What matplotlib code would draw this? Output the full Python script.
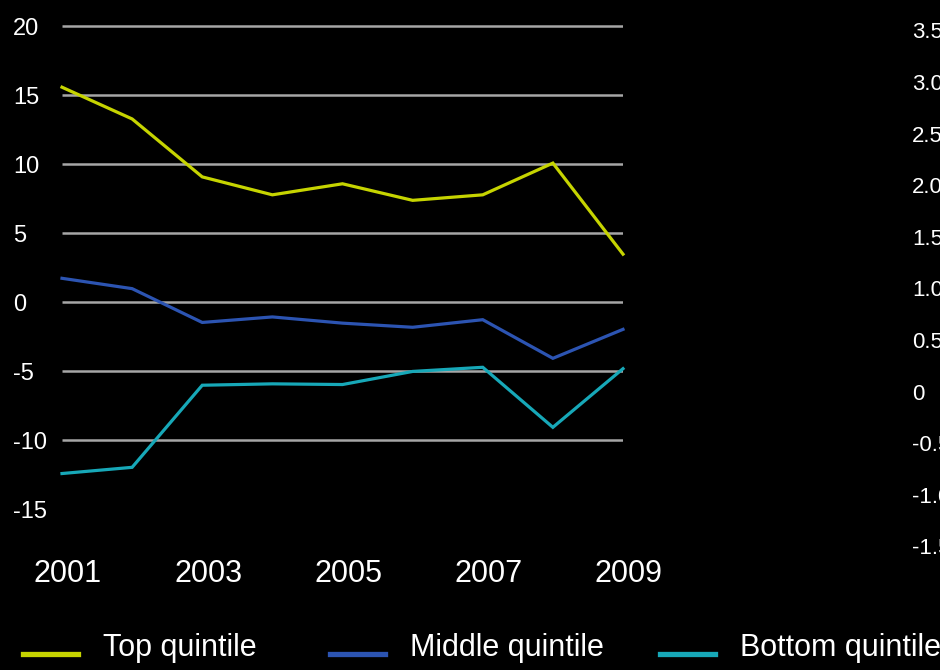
import matplotlib
matplotlib.use("Agg")
import matplotlib.pyplot as plt
from matplotlib.lines import Line2D
from matplotlib.legend_handler import HandlerLine2D
from matplotlib.transforms import ScaledTranslation

plt.rcParams['font.family'] = ['Liberation Sans', 'DejaVu Sans']

# ---- data -------------------------------------------------------------
years = [2001, 2002, 2003, 2004, 2005, 2006, 2007, 2008, 2009]
top_quintile = [15.6, 13.3, 9.1, 7.8, 8.6, 7.4, 7.8, 10.1, 3.5]
middle_quintile = [1.75, 1.0, -1.45, -1.05, -1.5, -1.8, -1.25, -4.05, -1.95]
bottom_quintile = [-12.4, -11.95, -6.0, -5.9, -5.95, -5.0, -4.7, -9.05, -4.8]

series_names = ["Top quintile", "Middle quintile", "Bottom quintile"]
series_colors = ["#c6d400", "#2c54b2", "#17a8b8"]

year_ticks = [2001, 2003, 2005, 2007, 2009]
left_ticks = [20, 15, 10, 5, 0, -5, -10, -15]
grid_values = [20, 15, 10, 5, 0, -5, -10]
right_ticks = [3.5, 3.0, 2.5, 2.0, 1.5, 1.0, 0.5, 0, -0.5, -1.0, -1.5]
right_labels = ["3.5", "3.0", "2.5", "2.0", "1.5", "1.0", "0.5", "0",
                "-0.5", "-1.0", "-1.5"]


class BaselineLine(HandlerLine2D):
    # legend swatch sitting near the text baseline instead of mid x-height
    def create_artists(self, legend, orig_handle, xdescent, ydescent,
                       width, height, fontsize, trans):
        arts = super().create_artists(legend, orig_handle, xdescent, ydescent,
                                      width, height, fontsize, trans)
        for a in arts:
            a.set_ydata([y - 0.3 * fontsize for y in a.get_ydata()])
        return arts


# ---- figure -----------------------------------------------------------
W, H = 940, 670
fig = plt.figure(figsize=(W / 100, H / 100), dpi=100, facecolor="black")

ax = fig.add_axes([62 / W, (H - 537) / H, 561 / W, 524.3 / H])
ax.set_facecolor("black")
for s in ax.spines.values():
    s.set_visible(False)
ax.set_xlim(2001, 2009)
ax.set_ylim(-17, 21)

ax.hlines(grid_values, 2001, 2009, colors="#a6a6a6", linewidth=1.8, zorder=1)

for vals, name, col in zip([top_quintile, middle_quintile, bottom_quintile],
                           series_names, series_colors):
    ax.plot(years, vals, color=col, linewidth=2.3, clip_on=False, zorder=3,
            solid_joinstyle="miter")

ax.set_yticks(left_ticks)
ax.set_yticklabels([str(t) for t in left_ticks])
ax.tick_params(axis="y", length=0, pad=35.3, labelsize=17, labelcolor="white")
for lab in ax.get_yticklabels():
    lab.set_horizontalalignment("left")

ax.set_xticks(year_ticks)
ax.set_xticklabels([str(y) for y in year_ticks])
ax.tick_params(axis="x", length=0, pad=16, labelsize=22, labelcolor="white")
shift = ScaledTranslation(6 / 100, 0, fig.dpi_scale_trans)
for lab in ax.get_xticklabels():
    lab.set_transform(lab.get_transform() + shift)

# right-hand scale, cut off by the figure edge
ax_r = fig.add_axes([911 / W, (H - 560) / H, 1 / W, (560 - 12.7) / H])
ax_r.set_facecolor("none")
for s in ax_r.spines.values():
    s.set_visible(False)
ax_r.set_ylim(-1.631, 3.672)
ax_r.set_xticks([])
ax_r.yaxis.tick_right()
ax_r.set_yticks(right_ticks)
ax_r.set_yticklabels(right_labels)
ax_r.tick_params(axis="y", length=0, pad=0, labelsize=16, labelcolor="white")

# ---- legend -----------------------------------------------------------
legend_x = [23, 330, 660]
for name, col, x in zip(series_names, series_colors, legend_x):
    h = Line2D([0], [0], color=col, linewidth=3.8)
    fig.legend([h], [name], loc="center left",
               bbox_to_anchor=(x / W, (H - 648) / H),
               frameon=False, fontsize=22, labelcolor="white",
               handlelength=1.8, handletextpad=0.82,
               borderpad=0, borderaxespad=0,
               handler_map={Line2D: BaselineLine()})

fig.savefig("out.png", dpi=100, facecolor="black")
